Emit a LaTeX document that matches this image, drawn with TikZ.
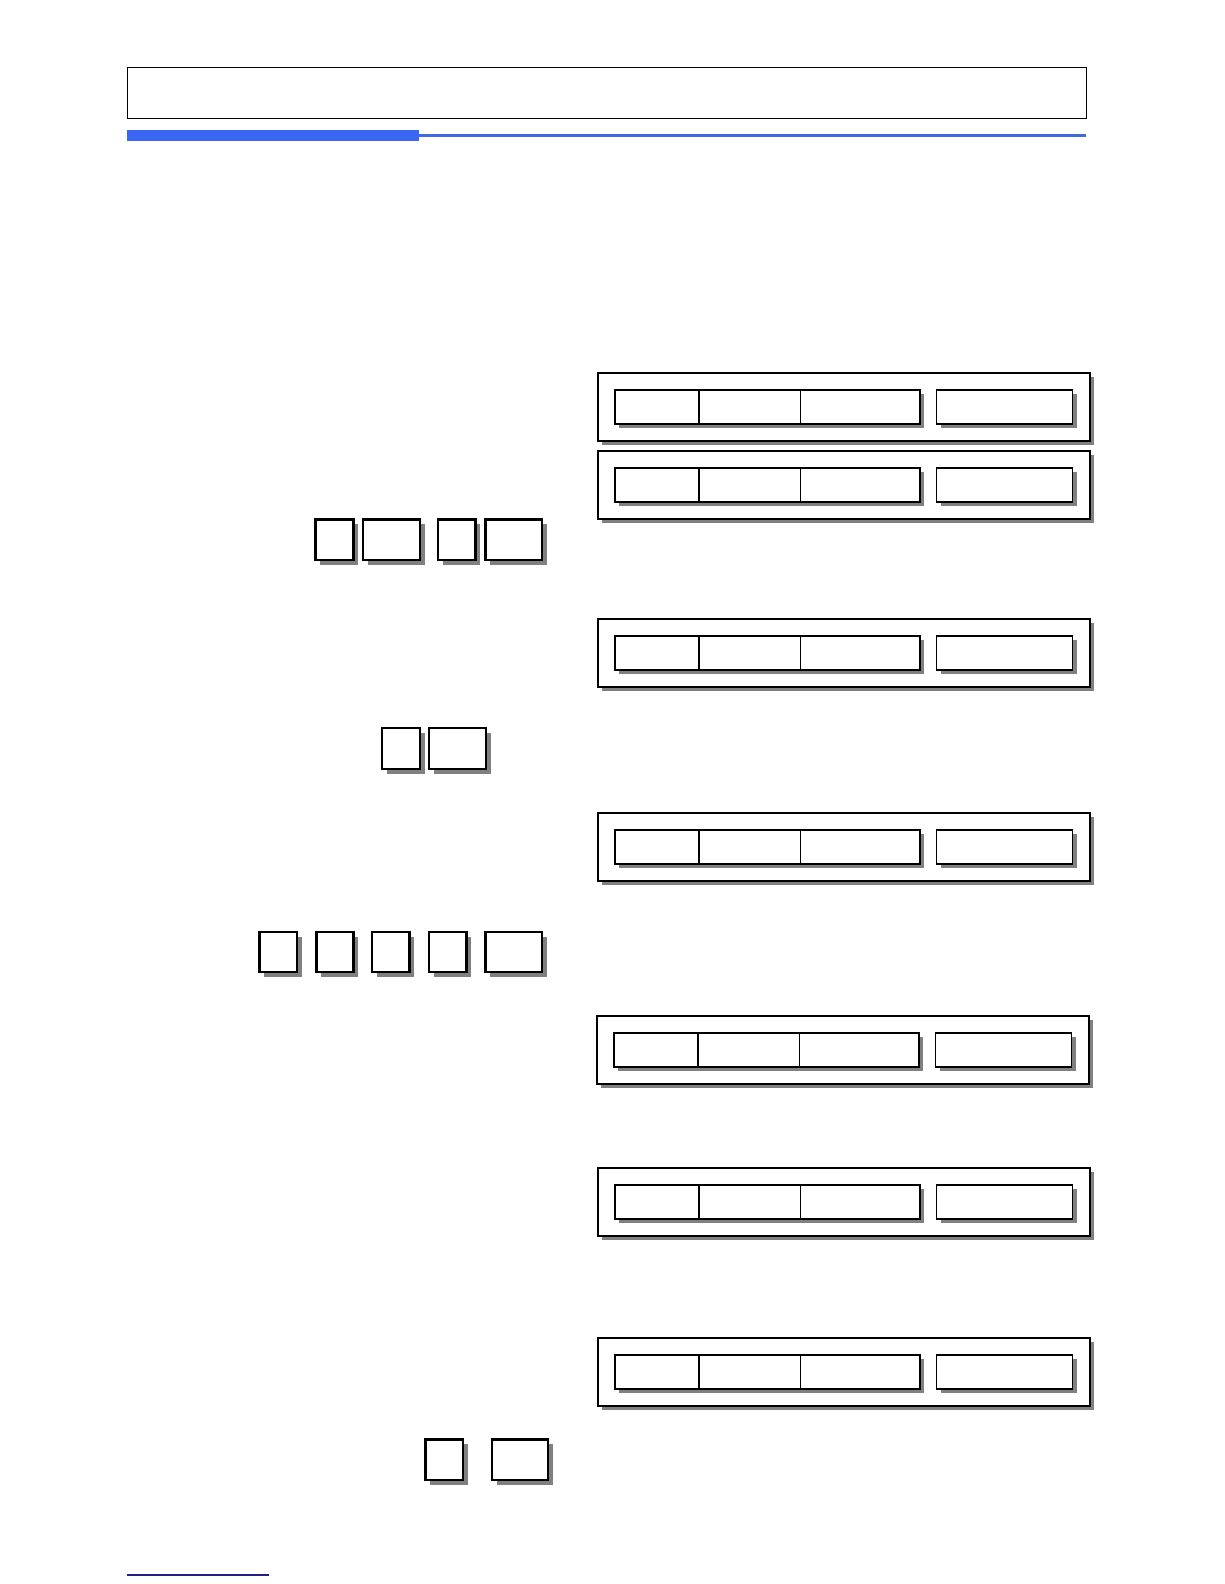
\documentclass[tikz,border=0pt]{standalone}
\usetikzlibrary{shadows,calc}
\definecolor{barblue}{RGB}{58,102,245}
\definecolor{lineblue}{RGB}{65,105,225}
\definecolor{navy}{RGB}{30,30,140}
\begin{document}
\begin{tikzpicture}[x=1pt,y=-1pt,
  shad/.style={drop shadow={shadow xshift=4pt,shadow yshift=-4pt,fill=black!50,opacity=1}},
  keyshad/.style={drop shadow={shadow xshift=5pt,shadow yshift=-5pt,fill=black!50,opacity=1}},
  panelbox/.style={draw,line width=1.7pt,fill=white,shad,anchor=north west,inner sep=0pt,minimum width=492pt,minimum height=68pt},
  cellgroup/.style={draw,line width=1.7pt,fill=white,shad,anchor=north west,inner sep=0pt,minimum width=305pt,minimum height=34pt},
  sidebox/.style={draw,line width=1.7pt,fill=white,shad,anchor=north west,inner sep=0pt,minimum width=136pt,minimum height=34pt},
  keybox/.style={draw,line width=2.2pt,fill=white,keyshad,anchor=north west,inner sep=0pt,minimum height=40.5pt},
  headbox/.style={draw,line width=1.3pt,anchor=north west,inner sep=0pt,minimum width=959pt,minimum height=51pt}]
\useasboundingbox (0,0) rectangle (1224,1584);
\fill[white] (0,0) rectangle (1224,1584);
% header
\node[headbox] (header) at (127,67) {};
\fill[barblue] (127,130) rectangle (419,141);
\fill[lineblue] (419,134.3) rectangle (1086,136.7);
% footer
\draw[navy,line width=1.4pt] (127,1575) -- (269,1575);
% panels
\foreach \n/\px/\py in {p1/597.3/372.3, p2/597.3/450.3, p3/597.3/618.3, p4/597.3/812.3, p5/596.3/1015.3, p6/597.3/1167.3, p7/597.3/1337.3}{
  \node[panelbox] (\n) at (\px,\py) {};
  \node[cellgroup] (\n g) at ($(\n.north west)+(17,17)$) {};
  \node[sidebox] (\n s) at ($(\n.north west)+(338.4,17)$) {};
  \draw[line width=1.7pt] ($(\n g.north west)+(84.4,0)$) -- ($(\n g.south west)+(84.4,0)$);
  \draw[line width=0.9pt] ($(\n g.north west)+(186,0)$) -- ($(\n g.south west)+(186,0)$);
}
% keys
\foreach \n/\xa/\xb/\ya in {
  ka/314.3/352.3/518.3, kb/362/418.7/518.3, kc/437/474.3/518.3, kd/484.3/540.7/518.3,
  ke/381/419/727, kf/428/485/727,
  kg/258.3/295.7/930.7, kh/315.3/352.3/930.7, ki/371/408.3/930.7, kj/427.7/465.3/930.7, kk/484.3/540.7/930.7,
  kl/424.3/461.7/1438.3, km/490.7/546.7/1438.3}{
  \pgfmathsetmacro\w{\xb-\xa}
  \node[keybox,minimum width=\w pt] (\n) at (\xa,\ya) {};
}
\end{tikzpicture}
\end{document}
